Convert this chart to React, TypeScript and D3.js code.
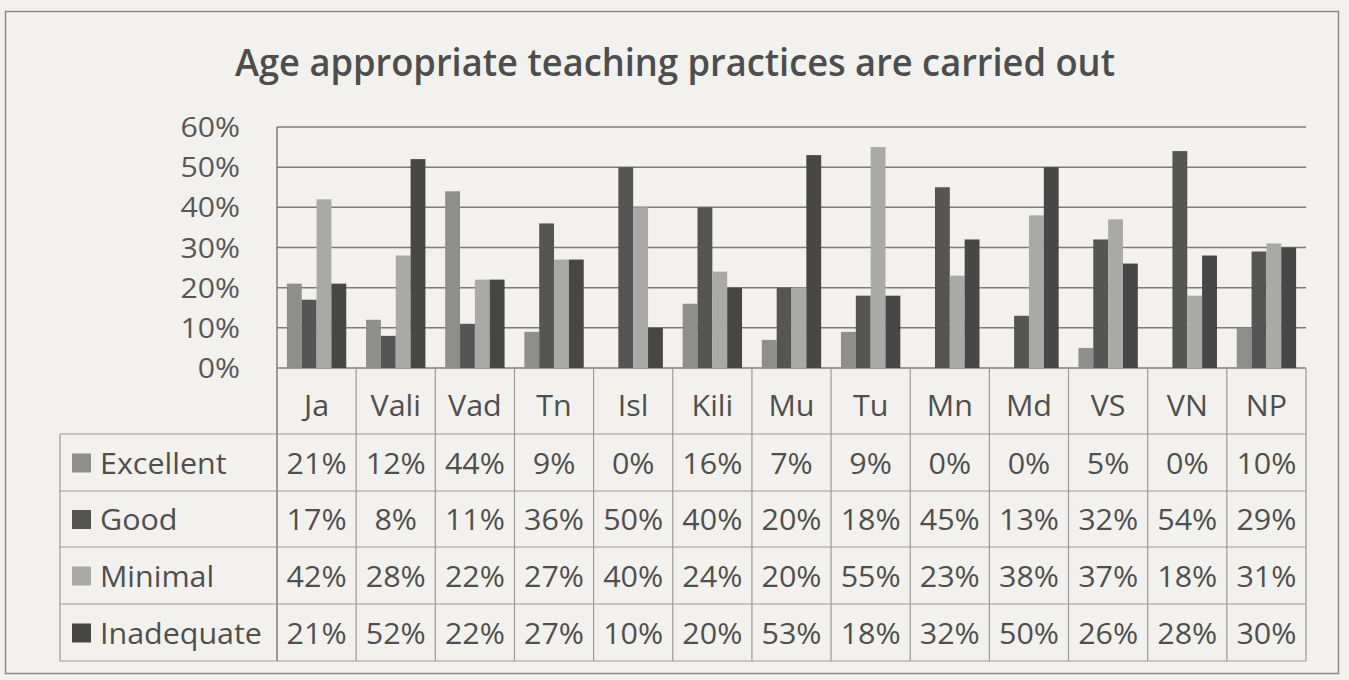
import React from 'react';
import * as d3 from 'd3';

const categories = ['Ja', 'Vali', 'Vad', 'Tn', 'Isl', 'Kili', 'Mu', 'Tu', 'Mn', 'Md', 'VS', 'VN', 'NP'];
const seriesNames = ['Excellent', 'Good', 'Minimal', 'Inadequate'];
const excellent = [21, 12, 44, 9, 0, 16, 7, 9, 0, 0, 5, 0, 10];
const good = [17, 8, 11, 36, 50, 40, 20, 18, 45, 13, 32, 54, 29];
const minimal = [42, 28, 22, 27, 40, 24, 20, 55, 23, 38, 37, 18, 31];
const inadequate = [21, 52, 22, 27, 10, 20, 53, 18, 32, 50, 26, 28, 30];
const yTicks = [0, 10, 20, 30, 40, 50, 60];
const title = 'Age appropriate teaching practices are carried out';

const seriesValues = [excellent, good, minimal, inadequate];
const seriesColors = ['#8e8e8c', '#555555', '#a9a9a7', '#474747'];

const W = 1349;
const H = 680;
const FONT = '"Open Sans", "Noto Sans", sans-serif';

// text is a bit wide in the scan, so stretch horizontally
const T = ({ x, y, sx = 1.05, anchor = 'middle', size = 29, fill = '#4f4f4f', weight = 400, children }: any) => (
  <text
    transform={`translate(${x},${y}) scale(${sx},1)`}
    textAnchor={anchor}
    fontSize={size}
    fontWeight={weight}
    fill={fill}
    fontFamily={FONT}
  >
    {children}
  </text>
);

export default function App() {
  const plotLeft = 277;
  const plotRight = 1306;
  const y = d3.scaleLinear().domain([0, 60]).range([368, 127]);
  const x0 = d3.scaleBand<string>().domain(categories).range([plotLeft, plotRight]).padding(0);
  const bw = x0.bandwidth();
  const x1 = d3.scaleBand<string>().domain(seriesNames).range([bw * 0.125, bw * 0.875]).padding(0);

  const headerTop = y(0);
  const rowEdges = [434, 491, 547, 604, 661];
  const legendLeft = 60;
  const pct = (v: number) => `${v}%`;

  return (
    <svg width={W} height={H} style={{ position: 'absolute', left: 0, top: 0 }}>
      <rect x={0} y={0} width={W} height={H} fill="#f2f1ed" />
      <rect x={5.5} y={11.5} width={1333} height={662} fill="none" stroke="#8a8a8a" strokeWidth={1.5} />

      <text
        x={675}
        y={76}
        textAnchor="middle"
        fontSize={37}
        fontWeight={600}
        fill="#4d4d4d"
        fontFamily={FONT}
        textLength={880}
        lengthAdjust="spacingAndGlyphs"
      >
        {title}
      </text>

      {/* gridlines */}
      {yTicks.map((t) => (
        <line key={t} x1={plotLeft} x2={plotRight} y1={y(t)} y2={y(t)} stroke="#7c7c7c" strokeWidth={1.5} />
      ))}
      {yTicks.map((t) => (
        <T key={'l' + t} x={240} y={y(t) + 10} anchor="end" size={27} sx={1.12} fill="#575757">
          {pct(t)}
        </T>
      ))}

      {/* bars */}
      {categories.map((c, i) => (
        <g key={c} transform={`translate(${x0(c)},0)`}>
          {seriesNames.map((s, k) => (
            <rect
              key={s}
              x={x1(s)}
              y={y(seriesValues[k][i])}
              width={x1.bandwidth()}
              height={y(0) - y(seriesValues[k][i])}
              fill={seriesColors[k]}
            />
          ))}
        </g>
      ))}

      {/* data table */}
      <line x1={plotLeft} x2={plotLeft} y1={y(60)} y2={rowEdges[4]} stroke="#7c7c7c" strokeWidth={1.5} />
      {categories.map((c) => (
        <line key={'v' + c} x1={x0(c)! + bw} x2={x0(c)! + bw} y1={headerTop} y2={rowEdges[4]} stroke="#9a9a9a" strokeWidth={1.2} />
      ))}
      <line x1={legendLeft} x2={legendLeft} y1={rowEdges[0]} y2={rowEdges[4]} stroke="#9a9a9a" strokeWidth={1.2} />
      {rowEdges.map((r) => (
        <line key={'h' + r} x1={legendLeft} x2={plotRight} y1={r} y2={r} stroke="#9a9a9a" strokeWidth={1.2} />
      ))}
      {categories.map((c) => (
        <T key={'c' + c} x={x0(c)! + bw / 2} y={headerTop + 48}>
          {c}
        </T>
      ))}
      {seriesNames.map((s, k) => {
        const cy = (rowEdges[k] + rowEdges[k + 1]) / 2;
        return (
          <g key={'r' + s}>
            <rect x={72} y={cy - 9} width={19} height={19} fill={seriesColors[k]} />
            <T x={100} y={cy + 11} anchor="start">
              {s}
            </T>
            {categories.map((c, i) => (
              <T key={c} x={x0(c)! + bw / 2} y={cy + 11}>
                {pct(seriesValues[k][i])}
              </T>
            ))}
          </g>
        );
      })}
    </svg>
  );
}
